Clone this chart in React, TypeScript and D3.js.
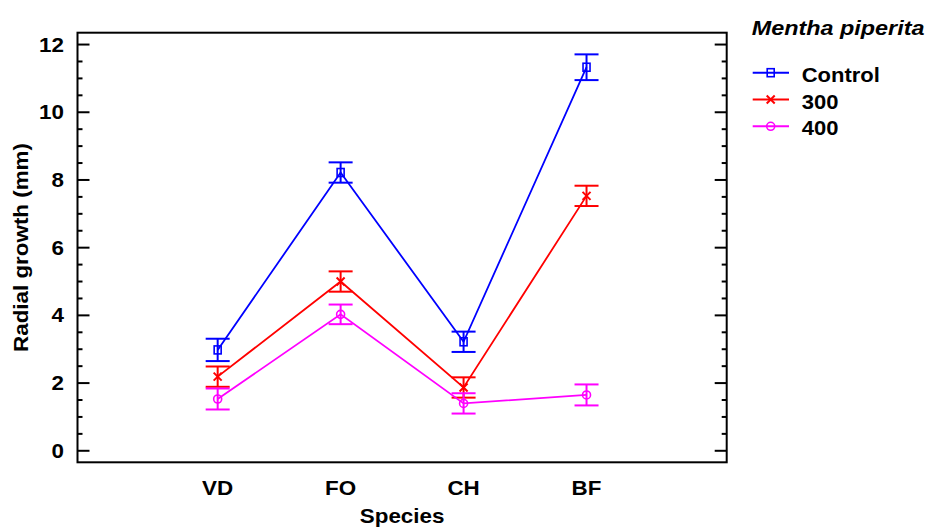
import React from "react";
import * as d3 from "d3";

// chart values
const categories = ["VD", "FO", "CH", "BF"];
const controlMean = [2.98, 8.22, 3.22, 11.33];
const controlErr = [0.33, 0.3, 0.3, 0.38];
const mean300 = [2.19, 5.0, 1.87, 7.53];
const err300 = [0.3, 0.3, 0.3, 0.3];
const mean400 = [1.53, 4.03, 1.4, 1.65];
const err400 = [0.31, 0.29, 0.3, 0.31];
const yTicks = [0, 2, 4, 6, 8, 10, 12];
const seriesNames = ["Control", "300", "400"];
const legendTitle = "Mentha piperita";

const W = 926;
const H = 528;
const FONT = "'Liberation Sans', Arial, sans-serif";

const series = [
  { name: seriesNames[0], mean: controlMean, err: controlErr, color: "#0000ff", marker: "square" },
  { name: seriesNames[1], mean: mean300, err: err300, color: "#ff0000", marker: "cross" },
  { name: seriesNames[2], mean: mean400, err: err400, color: "#ff00ff", marker: "circle" },
];

function Txt({ x, y, anchor = "start", size = 20, sx = 1.12, italic = false, rotate = false, children }: any) {
  return (
    <text
      transform={`translate(${x},${y})${rotate ? " rotate(-90)" : ""} scale(${sx},1)`}
      textAnchor={anchor}
      fontFamily={FONT}
      fontWeight="bold"
      fontStyle={italic ? "italic" : "normal"}
      fontSize={size}
      fill="#000"
    >
      {children}
    </text>
  );
}

function Marker({ type, x, y, color }: any) {
  if (type === "square") {
    return <rect x={x - 3.5} y={y - 4} width={7} height={8} fill="none" stroke={color} strokeWidth={1.6} />;
  }
  if (type === "cross") {
    return (
      <path
        d={`M${x - 4},${y - 4}L${x + 4},${y + 4}M${x - 4},${y + 4}L${x + 4},${y - 4}`}
        stroke={color}
        strokeWidth={2}
      />
    );
  }
  return <circle cx={x} cy={y} r={4} fill="none" stroke={color} strokeWidth={1.6} />;
}

export default function App() {
  const left = 77.5, right = 726.7, top = 32.7, bottom = 462.3;

  const x = d3.scalePoint<string>().domain(categories).range([left, right]).padding(1.14);
  const y = d3.scaleLinear().domain([-0.34, 12.35]).range([bottom, top]);

  const minor = d3.range(0, 12.01, 0.5);
  const line = d3
    .line<number>()
    .x((_, i) => x(categories[i]) as number)
    .y((d) => y(d));

  return (
    <svg width={W} height={H} style={{ position: "absolute", left: 0, top: 0, background: "#fff" }}>
      <rect x={0} y={0} width={W} height={H} fill="#fff" />

      {/* ticks, left and right */}
      {minor.map((v) => {
        const len = v % 2 === 0 ? 12 : 5;
        return (
          <g key={v} stroke="#000" strokeWidth={2}>
            <line x1={left} x2={left + len} y1={y(v)} y2={y(v)} />
            <line x1={right} x2={right - len} y1={y(v)} y2={y(v)} />
          </g>
        );
      })}
      {yTicks.map((v) => (
        <Txt key={v} x={64} y={y(v) + 7} anchor="end">
          {v}
        </Txt>
      ))}

      {/* series */}
      {series.map((s) => (
        <g key={s.name}>
          <path d={line(s.mean) as string} fill="none" stroke={s.color} strokeWidth={1.8} />
          {s.mean.map((m, i) => {
            const cx = x(categories[i]) as number;
            const y1 = y(m + s.err[i]);
            const y2 = y(m - s.err[i]);
            return (
              <g key={i} stroke={s.color} strokeWidth={2}>
                <line x1={cx} x2={cx} y1={y1} y2={y2} />
                <line x1={cx - 12} x2={cx + 12} y1={y1} y2={y1} />
                <line x1={cx - 12} x2={cx + 12} y1={y2} y2={y2} />
              </g>
            );
          })}
          {s.mean.map((m, i) => (
            <Marker key={i} type={s.marker} x={x(categories[i])} y={y(m)} color={s.color} />
          ))}
        </g>
      ))}

      {/* frame */}
      <rect x={left} y={top} width={right - left} height={bottom - top} fill="none" stroke="#000" strokeWidth={2} />

      {/* x labels */}
      {categories.map((c) => (
        <Txt key={c} x={x(c)} y={495} anchor="middle">
          {c}
        </Txt>
      ))}
      <Txt x={(left + right) / 2} y={523} anchor="middle">
        Species
      </Txt>
      <Txt x={28} y={(top + bottom) / 2} anchor="middle" rotate>
        Radial growth (mm)
      </Txt>

      {/* legend */}
      <Txt x={751.7} y={35} size={20} sx={1.17} italic>
        {legendTitle}
      </Txt>
      {series.map((s, i) => {
        const ly = 72.7 + i * 26.8;
        return (
          <g key={s.name}>
            <line x1={752.7} x2={789} y1={ly} y2={ly} stroke={s.color} strokeWidth={2} />
            <Marker type={s.marker} x={770.7} y={ly} color={s.color} />
            <Txt x={801.7} y={ly + 9} sx={1.1}>
              {s.name}
            </Txt>
          </g>
        );
      })}
    </svg>
  );
}
